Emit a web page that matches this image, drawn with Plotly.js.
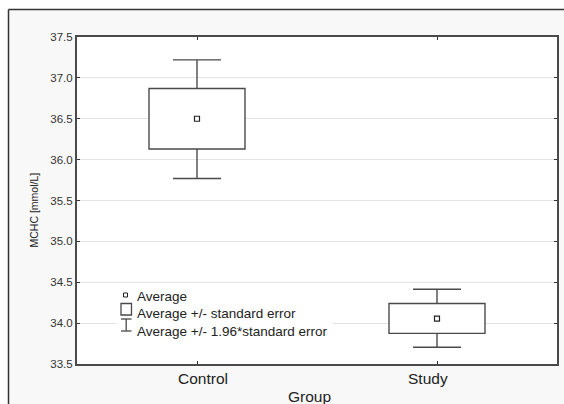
<!DOCTYPE html>
<html>
<head>
<meta charset="utf-8">
<script src="https://cdn.plot.ly/plotly-3.0.1.min.js"></script>
<style>html,body{margin:0;padding:0;background:#fff;}#chart{width:564px;height:404px;}</style>
</head>
<body>
<div id="chart"></div>
<script>
// ---- data ----
const groups = ['Control', 'Study'];
const means = [36.50, 34.055];
const seLow = [36.13, 33.875];      // average - standard error
const seHigh = [36.87, 34.24];      // average + standard error
const ciLow = [35.77, 33.705];      // average - 1.96*standard error
const ciHigh = [37.22, 34.415];     // average + 1.96*standard error
const yTicks = [33.5, 34.0, 34.5, 35.0, 35.5, 36.0, 36.5, 37.0, 37.5];
const legendLabels = ['Average', 'Average +/- standard error', 'Average +/- 1.96*standard error'];
const xTitle = 'Group';
const yTitle = 'MCHC [mmol/L]';

// ---- layout helpers (pixel -> paper) ----
const W = 564, H = 404, ML = 77, MR = 7, MT = 37, MB = 40;
const PW = W - ML - MR, PH = H - MT - MB;
const px = x => (x - ML) / PW;
const py = y => (H - MB - y) / PH;
const FONT = 'Liberation Sans, Arial, sans-serif';
const LC = '#4a4a4a';
const BOX_W = 0.4, CAP_HALF = 0.1;

const xIdx = groups.map((g, i) => i);

// whisker segments built from the data arrays
const wx = [], wy = [];
xIdx.forEach(i => {
  wx.push(i, i, null, i - CAP_HALF, i + CAP_HALF, null);
  wy.push(seHigh[i], ciHigh[i], null, ciHigh[i], ciHigh[i], null);
  wx.push(i, i, null, i - CAP_HALF, i + CAP_HALF, null);
  wy.push(seLow[i], ciLow[i], null, ciLow[i], ciLow[i], null);
});

const traces = [
  {
    type: 'bar', x: xIdx, base: seLow, y: seHigh.map((v, i) => v - seLow[i]),
    width: BOX_W, marker: {color: '#ffffff', line: {color: LC, width: 1.4}},
    hoverinfo: 'skip', showlegend: false
  },
  {
    type: 'scatter', mode: 'lines', x: wx, y: wy, connectgaps: false,
    line: {color: LC, width: 1.4}, hoverinfo: 'skip', showlegend: false
  },
  {
    type: 'scatter', mode: 'markers', x: xIdx, y: means,
    marker: {symbol: 'square-open', size: 5, color: '#222', line: {width: 1.2, color: '#222'}},
    hoverinfo: 'skip', showlegend: false
  }
];

const shapes = [
  // outer light panel and frame
  {type: 'rect', xref: 'paper', yref: 'paper', x0: px(9), x1: px(620), y0: py(10), y1: py(460),
   fillcolor: '#f8f8f8', line: {width: 0}, layer: 'below'},
  {type: 'rect', xref: 'paper', yref: 'paper', x0: 0, x1: 1, y0: 0, y1: 1,
   fillcolor: '#ffffff', line: {width: 0}, layer: 'below'},
  {type: 'line', xref: 'paper', yref: 'paper', x0: px(8.5), x1: px(8.5), y0: py(9.5), y1: py(460),
   line: {color: '#333', width: 1.5}, layer: 'below'},
  {type: 'line', xref: 'paper', yref: 'paper', x0: px(8.5), x1: px(620), y0: py(9.5), y1: py(9.5),
   line: {color: '#333', width: 1.5}, layer: 'below'},
  // legend background
  {type: 'rect', xref: 'paper', yref: 'paper', x0: px(117), x1: px(333), y0: py(336), y1: py(286),
   fillcolor: '#ffffff', line: {width: 0}, layer: 'above'},
  // legend symbol: average
  {type: 'rect', xref: 'paper', yref: 'paper', x0: px(123.5), x1: px(127.5), y0: py(297), y1: py(293),
   fillcolor: '#ffffff', line: {color: '#222', width: 1}, layer: 'above'},
  // legend symbol: box
  {type: 'rect', xref: 'paper', yref: 'paper', x0: px(121), x1: px(131.5), y0: py(315), y1: py(303.5),
   fillcolor: '#ffffff', line: {color: LC, width: 1.3}, layer: 'above'},
  // legend symbol: whisker
  {type: 'line', xref: 'paper', yref: 'paper', x0: px(121), x1: px(131.5), y0: py(319), y1: py(319),
   line: {color: LC, width: 1.3}, layer: 'above'},
  {type: 'line', xref: 'paper', yref: 'paper', x0: px(126.2), x1: px(126.2), y0: py(319), y1: py(331),
   line: {color: LC, width: 1.3}, layer: 'above'},
  {type: 'line', xref: 'paper', yref: 'paper', x0: px(121), x1: px(131.5), y0: py(331), y1: py(331),
   line: {color: LC, width: 1.3}, layer: 'above'}
];

const legY = [296, 313.5, 331];
const annotations = [];
legendLabels.forEach((t, i) => annotations.push({
  xref: 'paper', yref: 'paper', x: px(135), y: py(legY[i]), xanchor: 'left', yanchor: 'middle',
  text: t, showarrow: false, font: {family: FONT, size: 13.5, color: '#222'}
}));
const xShift = [6, -9.5];
groups.forEach((g, i) => annotations.push({
  xref: 'x', yref: 'paper', x: xIdx[i], y: py(378.5), xanchor: 'center', yanchor: 'middle', xshift: xShift[i],
  text: g, showarrow: false, font: {family: FONT, size: 15.5, color: '#222'}
}));
annotations.push({
  xref: 'paper', yref: 'paper', x: px(309), y: py(396.5), xanchor: 'center', yanchor: 'middle',
  text: xTitle, showarrow: false, font: {family: FONT, size: 15.5, color: '#222'}
});
annotations.push({
  xref: 'paper', yref: 'paper', x: px(33.5), y: py(210), xanchor: 'center', yanchor: 'middle',
  text: yTitle, textangle: -90, showarrow: false, font: {family: FONT, size: 10.5, color: '#222'}
});

const layout = {
  width: W, height: H,
  margin: {l: ML, r: MR, t: MT, b: MB, pad: 0},
  paper_bgcolor: '#ffffff', plot_bgcolor: '#ffffff',
  showlegend: false, bargap: 0,
  xaxis: {
    range: [-0.5, 1.5], tickvals: xIdx, ticktext: groups,
    showgrid: false, zeroline: false,
    showticklabels: false, ticks: 'inside', ticklen: 3, tickwidth: 1, tickcolor: '#333',
    showline: true, linecolor: LC, linewidth: 2, mirror: 'ticks', fixedrange: true
  },
  yaxis: {
    range: [33.5, 37.5], tickvals: yTicks, ticktext: yTicks.map(v => v.toFixed(1)),
    showgrid: true, gridcolor: '#e3e3e3', gridwidth: 1, zeroline: false,
    ticks: 'inside', ticklen: 3, tickwidth: 1, tickcolor: '#333',
    showline: true, linecolor: LC, linewidth: 2, mirror: 'ticks',
    tickfont: {family: FONT, size: 11.5, color: '#333'}, fixedrange: true
  },
  shapes: shapes,
  annotations: annotations
};

Plotly.newPlot('chart', traces, layout, {displayModeBar: false, staticPlot: true});
</script>
</body>
</html>
